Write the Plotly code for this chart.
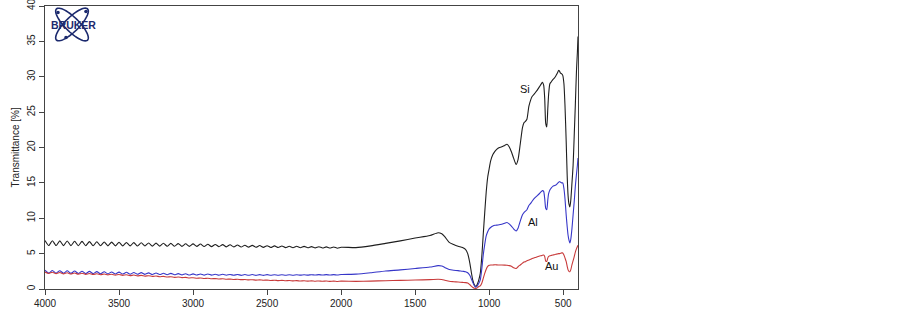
import numpy as np
import plotly.graph_objects as go

# ---------------- data ----------------
# interference-fringe region, 4000 -> 2000 cm-1 (peaks / troughs)
wn_fringe = [
    4000, 3975, 3950, 3925, 3900, 3875, 3850, 3825, 3800, 3775,
    3750, 3725, 3700, 3675, 3650, 3625, 3600, 3575, 3550, 3525,
    3500, 3475, 3450, 3425, 3400, 3375, 3350, 3325, 3300, 3275,
    3250, 3225, 3200, 3175, 3150, 3125, 3100, 3075, 3050, 3025,
    3000, 2975, 2950, 2925, 2900, 2875, 2850, 2825, 2800, 2775,
    2750, 2725, 2700, 2675, 2650, 2625, 2600, 2575, 2550, 2525,
    2500, 2475, 2450, 2425, 2400, 2375, 2350, 2325, 2300, 2275,
    2250, 2225, 2200, 2175, 2150, 2125, 2100, 2075, 2050, 2025,
    2000,
]
si_fringe = [
    6.85, 6.14, 6.83, 6.14, 6.80, 6.13, 6.78, 6.13, 6.75, 6.12,
    6.73, 6.12, 6.70, 6.11, 6.68, 6.11, 6.65, 6.10, 6.63, 6.10,
    6.60, 6.09, 6.58, 6.09, 6.56, 6.08, 6.54, 6.08, 6.51, 6.06,
    6.49, 6.06, 6.46, 6.05, 6.45, 6.05, 6.42, 6.03, 6.39, 6.03,
    6.38, 6.02, 6.35, 6.00, 6.32, 5.99, 6.30, 5.98, 6.27, 5.96,
    6.25, 5.95, 6.22, 5.93, 6.19, 5.92, 6.17, 5.90, 6.14, 5.89,
    6.12, 5.87, 6.09, 5.87, 6.08, 5.85, 6.05, 5.84, 6.04, 5.83,
    6.02, 5.82, 5.99, 5.81, 5.98, 5.79, 5.95, 5.79, 5.94, 5.77,
    5.90,
]
al_fringe = [
    2.65, 2.24, 2.62, 2.23, 2.59, 2.22, 2.57, 2.21, 2.54, 2.19,
    2.51, 2.18, 2.49, 2.17, 2.46, 2.15, 2.43, 2.14, 2.41, 2.12,
    2.39, 2.11, 2.36, 2.09, 2.33, 2.08, 2.31, 2.07, 2.28, 2.05,
    2.26, 2.04, 2.23, 2.02, 2.21, 2.01, 2.18, 1.99, 2.16, 1.97,
    2.14, 1.97, 2.12, 1.96, 2.11, 1.96, 2.09, 1.95, 2.08, 1.95,
    2.06, 1.94, 2.06, 1.93, 2.04, 1.94, 2.04, 1.93, 2.03, 1.93,
    2.03, 1.94, 2.02, 1.94, 2.02, 1.94, 2.02, 1.95, 2.02, 1.96,
    2.02, 1.96, 2.02, 1.97, 2.03, 1.97, 2.03, 1.97, 2.03, 1.97,
    2.04,
]
au_fringe = [
    2.40, 2.19, 2.37, 2.17, 2.33, 2.14, 2.29, 2.12, 2.26, 2.09,
    2.22, 2.07, 2.19, 2.04, 2.16, 2.02, 2.12, 1.99, 2.09, 1.96,
    2.06, 1.93, 2.01, 1.89, 1.97, 1.85, 1.93, 1.82, 1.88, 1.78,
    1.84, 1.74, 1.79, 1.69, 1.74, 1.65, 1.69, 1.61, 1.64, 1.56,
    1.60, 1.52, 1.55, 1.49, 1.51, 1.45, 1.47, 1.41, 1.44, 1.38,
    1.40, 1.35, 1.37, 1.32, 1.34, 1.29, 1.31, 1.26, 1.29, 1.24,
    1.26, 1.21, 1.24, 1.19, 1.22, 1.17, 1.20, 1.15, 1.18, 1.13,
    1.16, 1.12, 1.15, 1.10, 1.14, 1.09, 1.13, 1.08, 1.12, 1.07,
    1.11,
]

# absorption-band region, 1900 -> 400 cm-1
wn_bands = [
    1900, 1800, 1700, 1600, 1500, 1400, 1345, 1320, 1300, 1270,
    1240, 1210, 1180, 1160, 1145, 1130, 1120, 1110, 1100, 1092,
    1085, 1078, 1070, 1060, 1050, 1040, 1030, 1020, 1010, 1000,
    990, 975, 960, 940, 915, 895, 880, 865, 850, 835,
    818, 805, 790, 775, 765, 755, 745, 732, 720, 710,
    690, 675, 660, 648, 640, 632, 625, 618, 611, 604,
    598, 590, 580, 570, 560, 550, 540, 530, 525, 518,
    510, 503, 495, 488, 480, 473, 467, 461, 455, 449,
    441, 433, 425, 418, 410, 404, 400,
]
si_bands = [
    5.85, 6.1, 6.45, 6.8, 7.2, 7.55, 7.95, 7.8, 7.4, 6.6,
    6.3, 6.05, 5.85, 5.6, 5.0, 3.6, 2.3, 1.2, 0.6, 0.4,
    0.45, 0.8, 1.3, 2.2, 4.5, 7.7, 10.8, 13.7, 15.8, 17.0,
    18.1, 19.0, 19.5, 19.9, 20.1, 20.3, 20.45, 20.1, 19.4, 18.5,
    17.6, 18.3, 20.5, 22.8, 23.5, 23.7, 24.0, 25.8, 26.7, 27.2,
    27.7, 28.1, 28.6, 29.0, 29.2, 28.8, 27.0, 23.4, 22.9, 25.5,
    27.6, 29.0, 29.3, 29.6, 29.8, 30.1, 30.5, 30.9, 30.8, 30.5,
    30.4, 30.2, 29.0, 26.0, 21.0, 16.0, 13.2, 12.0, 11.6, 12.5,
    14.9, 17.5, 22.0, 26.0, 31.0, 33.5, 35.7,
]
al_bands = [
    2.1, 2.3, 2.55, 2.7, 2.9, 3.1, 3.3, 3.25, 3.05, 2.75,
    2.65, 2.6, 2.5, 2.45, 2.3, 1.9, 1.4, 0.9, 0.45, 0.25,
    0.3, 0.5, 0.8, 1.3, 2.8, 4.8, 6.3, 7.5, 8.1, 8.5,
    8.7, 8.9, 9.0, 9.05, 9.15, 9.3, 9.4, 9.2, 8.9, 8.5,
    8.2, 8.6, 9.6, 10.5, 10.8, 11.0, 11.2, 11.8, 12.1, 12.4,
    12.9, 13.2, 13.5, 13.75, 13.9, 13.8, 12.8, 11.4, 11.2, 12.6,
    13.5, 14.0, 14.3, 14.5, 14.6, 14.7, 14.9, 15.1, 15.2, 15.1,
    15.0, 15.0, 14.2, 12.8, 10.5, 8.8, 7.6, 6.9, 6.5, 7.0,
    8.5, 10.5, 12.5, 14.5, 16.3, 17.5, 18.5,
]
au_bands = [
    1.08, 1.12, 1.17, 1.22, 1.27, 1.32, 1.37, 1.35, 1.25, 1.1,
    1.03, 0.98, 0.93, 0.9, 0.85, 0.6, 0.4, 0.22, 0.12, 0.08,
    0.1, 0.2, 0.35, 0.45, 0.8, 1.5, 2.2, 2.8, 3.2, 3.35,
    3.4, 3.4, 3.42, 3.4, 3.4, 3.38, 3.35, 3.3, 3.2, 3.0,
    2.9, 3.15, 3.4, 3.65, 3.8, 3.86, 4.0, 4.1, 4.2, 4.3,
    4.45, 4.55, 4.66, 4.72, 4.78, 4.8, 4.6, 3.95, 3.9, 4.4,
    4.6, 4.7, 4.75, 4.8, 4.85, 4.9, 4.95, 5.0, 5.0, 5.05,
    5.1, 5.1, 4.8, 4.4, 3.9, 3.2, 2.7, 2.5, 2.45, 2.7,
    3.4, 4.0, 4.6, 5.2, 5.7, 6.0, 6.2,
]

sample_names = ["Si", "Al", "Au"]
label_wn = [758, 705, 580]
label_t = [28.3, 9.5, 3.3]

x_ticks = [4000, 3500, 3000, 2500, 2000, 1500, 1000, 500]
y_ticks = [0, 5, 10, 15, 20, 25, 30, 35, 40]

wavenumber = wn_fringe + wn_bands
series = {
    "Si": si_fringe + si_bands,
    "Al": al_fringe + al_bands,
    "Au": au_fringe + au_bands,
}
for k, v in series.items():
    assert len(v) == len(wavenumber), (k, len(v), len(wavenumber))

colors = {"Si": "#1e1e1e", "Al": "#3636c8", "Au": "#c83a3a"}
FONT = "Liberation Sans, Arial, sans-serif"

# ---------------- figure ----------------
fig = go.Figure()
for name in sample_names:
    fig.add_trace(go.Scatter(
        x=wavenumber, y=series[name], mode="lines", name=name,
        line=dict(color=colors[name], width=1.1, shape="spline", smoothing=0.6),
        showlegend=False, hoverinfo="skip",
    ))

for name, lx, ly in zip(sample_names, label_wn, label_t):
    fig.add_annotation(x=lx, y=ly, text=name, showarrow=False,
                       xanchor="center", yanchor="middle",
                       font=dict(size=11, color="#111", family=FONT))

L, R, T, B = 45, 578, 6, 289  # plot area in pixels
W, H = 902, 310

def pp(px, py):
    return (px - L) / (R - L), (B - py) / (B - T)

# Bruker logo (decorative)
navy = "#1c2a6e"
cx, cy = 72, 24.5
t = np.linspace(0, 2 * np.pi, 60)
for ang in (np.pi / 4, -np.pi / 4):
    ex = cx + 22 * np.cos(t) * np.cos(ang) - 7 * np.sin(t) * np.sin(ang)
    ey = cy + 22 * np.cos(t) * np.sin(ang) + 7 * np.sin(t) * np.cos(ang)
    pts = [pp(a, b) for a, b in zip(ex, ey)]
    path = "M " + " L ".join(f"{a:.5f},{b:.5f}" for a, b in pts) + " Z"
    fig.add_shape(type="path", path=path, xref="paper", yref="paper",
                  line=dict(color=navy, width=1.6))
for dx, dy in [(58, 12.5), (66, 37.5), (86, 11.5)]:
    x0, y0 = pp(dx - 1.8, dy + 1.8)
    x1, y1 = pp(dx + 1.8, dy - 1.8)
    fig.add_shape(type="circle", xref="paper", yref="paper", x0=x0, y0=y0, x1=x1, y1=y1,
                  fillcolor=navy, line=dict(color=navy, width=0))
lx, ly = pp(73.5, 25)
fig.add_annotation(x=lx, y=ly, xref="paper", yref="paper", text="<b>BRUKER</b>",
                   showarrow=False, xanchor="center", yanchor="middle",
                   font=dict(size=10.5, color=navy, family=FONT))

# y-axis title
fig.add_annotation(x=0, y=0.5, xref="paper", yref="paper", text="Transmittance [%]",
                   textangle=-90, showarrow=False, xanchor="center", yanchor="middle",
                   xshift=-30,
                   font=dict(size=10, color="#222", family=FONT))

axis_common = dict(
    showline=True, mirror=True, linecolor="#444", linewidth=1,
    ticks="outside", ticklen=5, tickcolor="#444", tickwidth=1,
    showgrid=False, zeroline=False, automargin=False,
    ticklabeloverflow="allow",
    tickfont=dict(size=10, color="#222", family=FONT),
)
fig.update_xaxes(range=[4000, 400], tickvals=x_ticks, ticktext=[str(v) for v in x_ticks],
                 **axis_common)
fig.update_yaxes(range=[0, 40], tickvals=y_ticks, ticktext=[str(v) for v in y_ticks],
                 tickangle=-90, **axis_common)

fig.update_layout(
    width=W, height=H,
    margin=dict(l=L, r=W - R, t=T, b=H - B, autoexpand=False),
    paper_bgcolor="white", plot_bgcolor="white",
    font=dict(family=FONT),
)

fig.write_html(
    "out.html",
    config={"displayModeBar": False, "staticPlot": True},
    post_script="document.body.style.margin='0';document.body.style.padding='0';"
                "document.documentElement.style.overflow='hidden';",
)
